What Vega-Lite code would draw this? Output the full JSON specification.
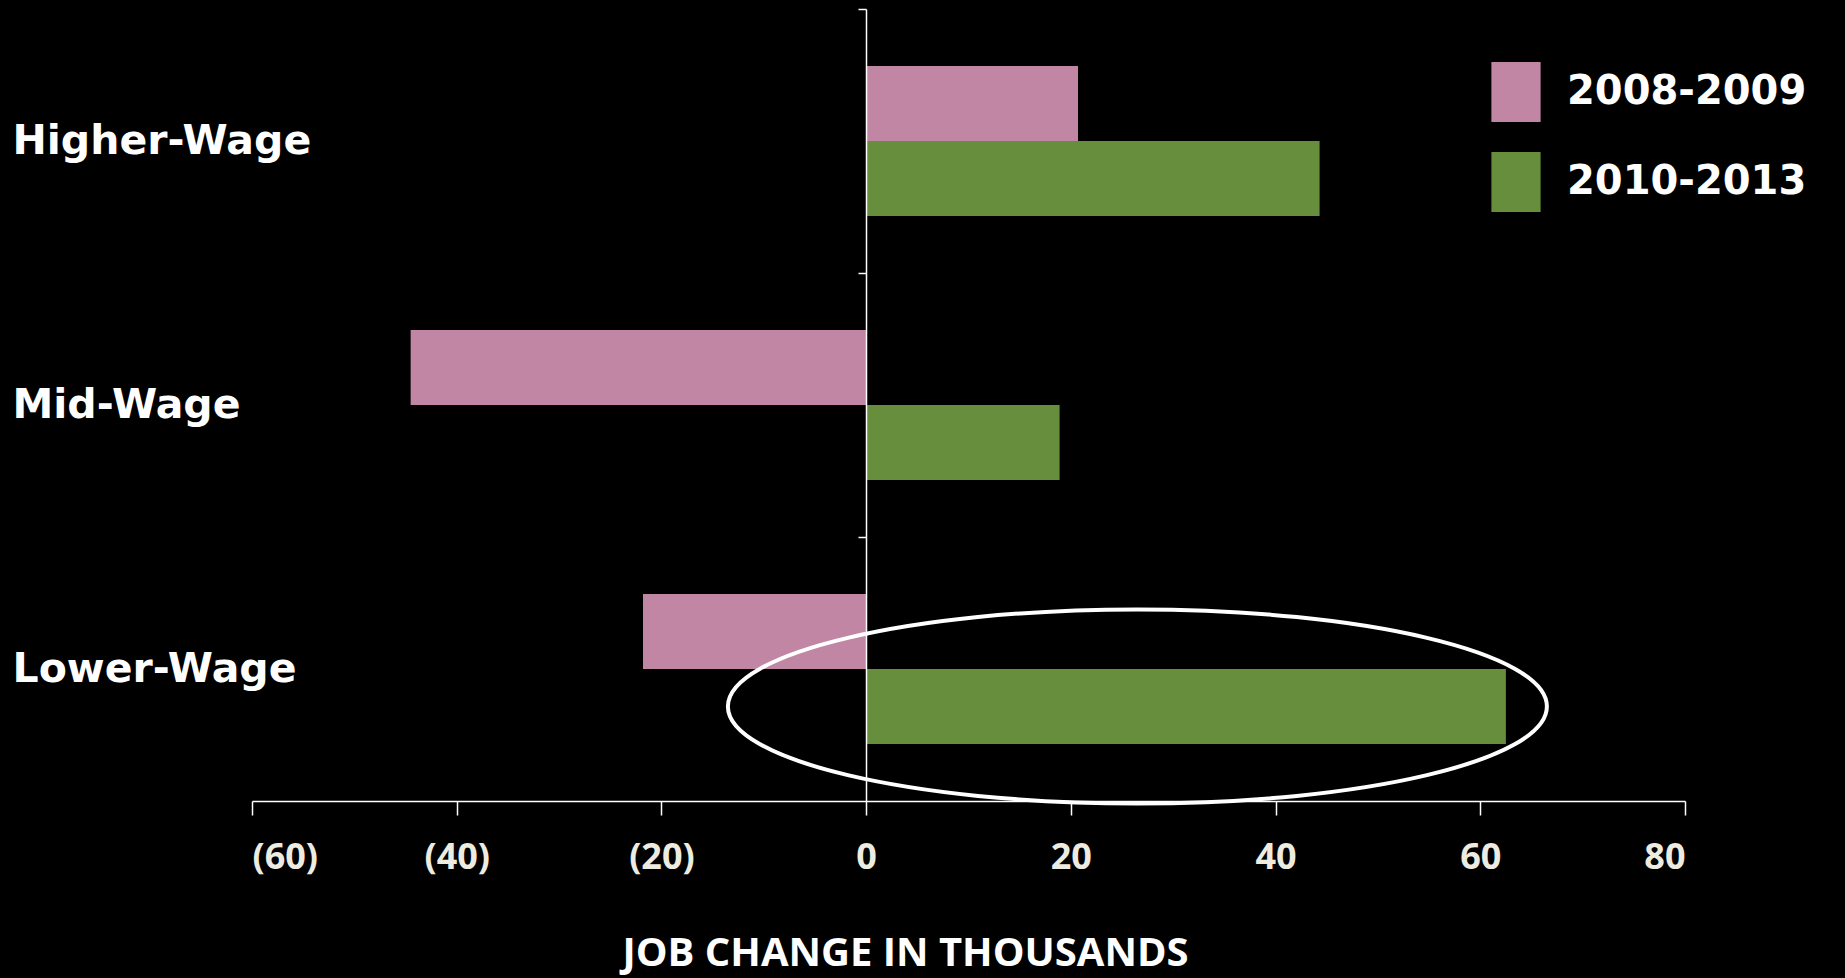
{
  "$schema": "https://vega.github.io/schema/vega-lite/v6.json",
  "width": 1433,
  "height": 792,
  "autosize": "none",
  "padding": {"left": 252, "top": 9, "right": 160, "bottom": 177},
  "background": "#000000",
  "config": {"view": {"stroke": null}},
  "data": {
    "values": [
      {"category": "Higher-Wage", "period": "2008-2009", "change": 20.7},
      {"category": "Higher-Wage", "period": "2010-2013", "change": 44.3},
      {"category": "Mid-Wage", "period": "2008-2009", "change": -44.5},
      {"category": "Mid-Wage", "period": "2010-2013", "change": 18.9},
      {"category": "Lower-Wage", "period": "2008-2009", "change": -21.8},
      {"category": "Lower-Wage", "period": "2010-2013", "change": 62.5}
    ]
  },
  "encoding": {
    "y": {
      "field": "category",
      "type": "nominal",
      "sort": ["Higher-Wage", "Mid-Wage", "Lower-Wage"],
      "scale": {"paddingInner": 0.432, "paddingOuter": 0.216},
      "axis": {
        "title": null,
        "offset": -614,
        "grid": false,
        "domainColor": "#ffffff",
        "domainWidth": 1.5,
        "tickColor": "#ffffff",
        "tickWidth": 1.5,
        "tickSize": 8,
        "tickOffset": -132,
        "labelOffset": 132,
        "labelAlign": "left",
        "labelPadding": 846,
        "labelLimit": 800,
        "labelFont": "DejaVu Sans",
        "labelFontWeight": "bold",
        "labelFontSize": 41,
        "labelColor": "#ffffff",
        "zindex": 1
      }
    },
    "yOffset": {"field": "period", "type": "nominal", "sort": ["2008-2009", "2010-2013"]}
  },
  "layer": [
    {
      "mark": {"type": "bar"},
      "encoding": {
        "x": {
          "field": "change",
          "type": "quantitative",
          "scale": {"domain": [-60, 80], "nice": false},
          "axis": {
            "title": "JOB CHANGE IN THOUSANDS",
            "values": [-60, -40, -20, 0, 20, 40, 60, 80],
            "labelExpr": "datum.value < 0 ? '(' + abs(datum.value) + ')' : '' + datum.value",
            "grid": false,
            "domainColor": "#ffffff",
            "domainWidth": 1.5,
            "tickColor": "#ffffff",
            "tickWidth": 1.5,
            "tickSize": 14,
            "labelPadding": 25,
            "labelFont": "Open Sans",
            "labelFontWeight": "bold",
            "labelFontSize": 36,
            "labelColor": "#EEECE1",
            "titleFont": "Open Sans",
            "titleFontWeight": "bold",
            "titleFontSize": 40,
            "titleColor": "#ffffff",
            "titleX": 653,
            "titleY": 164,
            "titleAlign": "center",
            "titleBaseline": "alphabetic"
          }
        },
        "color": {
          "field": "period",
          "type": "nominal",
          "scale": {"domain": ["2008-2009", "2010-2013"], "range": ["#C186A3", "#678E3D"]},
          "legend": {
            "title": null,
            "orient": "none",
            "legendX": 1234,
            "legendY": 53,
            "padding": 0,
            "symbolType": "M-0.82,-1H0.82V1H-0.82Z",
            "symbolSize": 3600,
            "symbolStrokeWidth": 0,
            "labelFont": "DejaVu Sans",
            "labelFontWeight": "bold",
            "labelFontSize": 40,
            "labelColor": "#ffffff",
            "labelOffset": 21,
            "labelLimit": 600,
            "rowPadding": 30
          }
        }
      }
    },
    {
      "transform": [{"filter": "datum.category === 'Lower-Wage' && datum.period === '2010-2013'"}],
      "mark": {
        "type": "point",
        "shape": "M1,0C1,0.1309 0.5523,0.237 0,0.237C-0.5523,0.237 -1,0.1309 -1,0C-1,-0.1309 -0.5523,-0.237 0,-0.237C0.5523,-0.237 1,-0.1309 1,0Z",
        "filled": false,
        "stroke": "#ffffff",
        "strokeWidth": 4,
        "size": 670761,
        "opacity": 1
      },
      "encoding": {
        "x": {"datum": 26.5, "type": "quantitative"}
      }
    }
  ]
}
